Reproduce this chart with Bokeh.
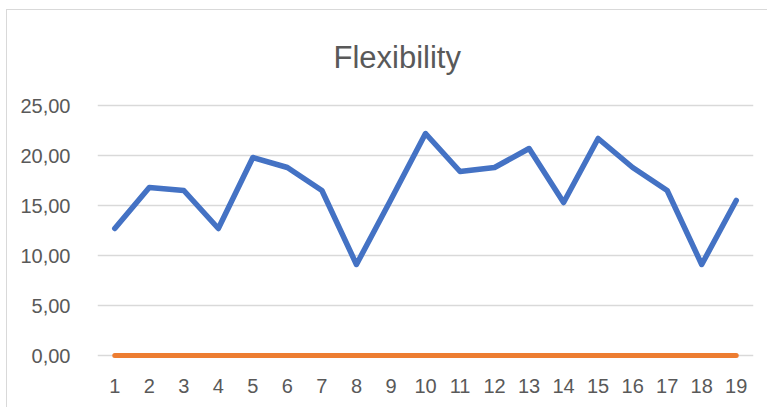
from bokeh.plotting import figure
from bokeh.models import Range1d, FixedTicker, Title
from bokeh.embed import file_html
from bokeh.resources import INLINE

title_text = "Flexibility"
categories = list(range(1, 20))
flexibility = [12.7, 16.8, 16.5, 12.7, 19.8, 18.8, 16.5, 9.1, 15.6, 22.2,
               18.4, 18.8, 20.7, 15.3, 21.7, 18.8, 16.5, 9.1, 15.5]
baseline = [0.0] * 19
y_ticks = [0, 5, 10, 15, 20, 25]
y_tick_labels = ["0,00", "5,00", "10,00", "15,00", "20,00", "25,00"]

FONT = "Liberation Sans"
GRAY = "#595959"

p = figure(width=761, height=398, output_backend="svg", toolbar_location=None,
           x_range=Range1d(0.5, 19.5), y_range=Range1d(-0.5, 25.5),
           min_border_left=90, min_border_right=15, min_border_top=90, min_border_bottom=48)
p.styles = {"border-left": "1px solid #d9d9d9", "border-top": "1px solid #d9d9d9",
            "margin-left": "6px", "margin-top": "9px"}

t = Title(text=title_text, align="left", text_font=FONT, text_font_size="31px",
          text_color=GRAY, text_font_style="normal", standoff=51, offset=236)
p.add_layout(t, "above")

p.line(categories, flexibility, line_color="#4472C4", line_width=5.5,
       line_cap="round", line_join="round")
p.line(categories, baseline, line_color="#ED7D31", line_width=5, line_cap="round")

p.xgrid.visible = False
p.ygrid.grid_line_color = "#d9d9d9"
p.ygrid.grid_line_width = 1.5
p.outline_line_color = None

p.yaxis.ticker = FixedTicker(ticks=y_ticks)
p.yaxis.major_label_overrides = {t_: l for t_, l in zip(y_ticks, y_tick_labels)}
p.xaxis.ticker = FixedTicker(ticks=categories)
p.xaxis.major_label_overrides = {c: str(c) for c in categories}

for ax in (p.xaxis, p.yaxis):
    ax.axis_line_color = None
    ax.major_tick_line_color = None
    ax.minor_tick_line_color = None
    ax.major_label_text_font = FONT
    ax.major_label_text_font_size = "20px"
    ax.major_label_text_color = GRAY
p.yaxis.major_label_standoff = 21
p.xaxis.major_label_standoff = 12

open("out.html", "w").write(file_html(p, INLINE))
